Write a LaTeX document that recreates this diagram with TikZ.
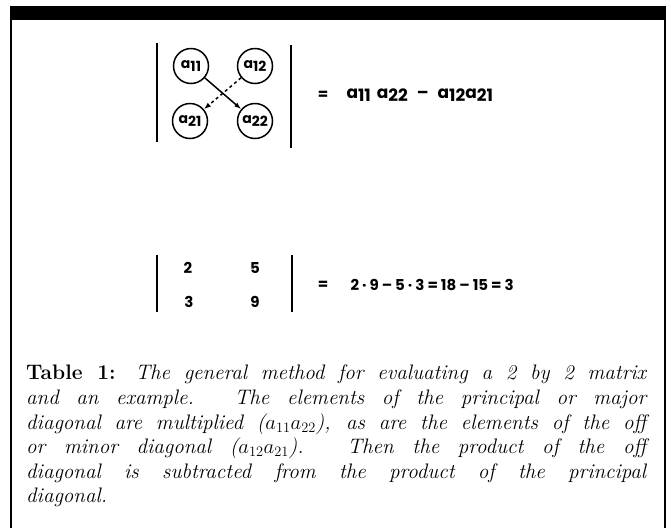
\documentclass[tikz,border=0pt]{standalone}
\usepackage{fontspec}
\usepackage{amsmath}
\usetikzlibrary{arrows.meta}
\newfontfamily\eqfont{Poppins}
\newcommand{\elt}[1]{a\raisebox{-3pt}{#1}}
\newcommand{\gp}{\hspace{3pt}}

\begin{document}
\begin{tikzpicture}[>={Latex[length=7pt,width=5pt]}, x=1pt, y=-1pt,
    elem/.style={circle, draw, line width=1.5pt, minimum size=35pt, inner sep=0pt,
        font=\eqfont\bfseries\fontsize{14}{14}\selectfont},
    num/.style={font=\eqfont\bfseries\fontsize{15}{15}\selectfont},
    bar/.style={line width=1.8pt}]
    \useasboundingbox (0,0) rectangle (671,528);

    % frame
    \fill (10,6) rectangle (666,20);
    \draw[line width=2.5pt] (11,20) -- (11,528);
    \draw[line width=2.5pt] (665,20) -- (665,528);

    % general 2 by 2 determinant
    \draw[bar] (157,43) -- (157,142);
    \draw[bar] (291,45) -- (291,148);
    \node[elem] (a11) at (191,66) {\elt{11}};
    \node[elem] (a12) at (255,66) {\elt{12}};
    \node[elem] (a21) at (190,121) {\elt{21}};
    \node[elem] (a22) at (255,121) {\elt{22}};
    \draw[->, line width=1.5pt] (a11) -- (a22);
    \draw[->, line width=1.5pt, dashed] (a12) -- (a21);
    \node[num] (eqa) at (323,95) {=};
    \node[num, anchor=west, font=\eqfont\bfseries\fontsize{17}{17}\selectfont] (rhsa) at (343,95)
        {\elt{11}\hspace{6pt}\elt{22}\hspace{9pt}–\hspace{9pt}\elt{12}\elt{21}};

    % example
    \draw[bar] (157,255) -- (157,312);
    \draw[bar] (292,255) -- (292,312);
    \node[num] (b11) at (188,268) {2};
    \node[num] (b12) at (255,268) {5};
    \node[num] (b21) at (189,302) {3};
    \node[num] (b22) at (255,302) {9};
    \node[num] (eqb) at (323,285) {=};
    \node[num, anchor=west] (rhsb) at (347,285)
        {2\gp·\gp9\gp–\gp5\gp·\gp3\gp=\gp18\gp–\gp15\gp=\gp3};

    % caption
    \node[anchor=north west, inner sep=0pt, text width=620pt, align=justify,
        font=\fontsize{21}{24.6}\selectfont] (cap) at (26,365)
        {\textbf{Table 1:} \textit{The general method for evaluating a 2 by 2 matrix\linebreak
        and an example. The elements of the principal or major\linebreak
        diagonal are multiplied ($a_{11}a_{22}$), as are the elements of the off\linebreak
        or minor diagonal ($a_{12}a_{21}$). Then the product of the off\linebreak
        diagonal is subtracted from the product of the principal\linebreak
        diagonal.}};
\end{tikzpicture}
\end{document}
